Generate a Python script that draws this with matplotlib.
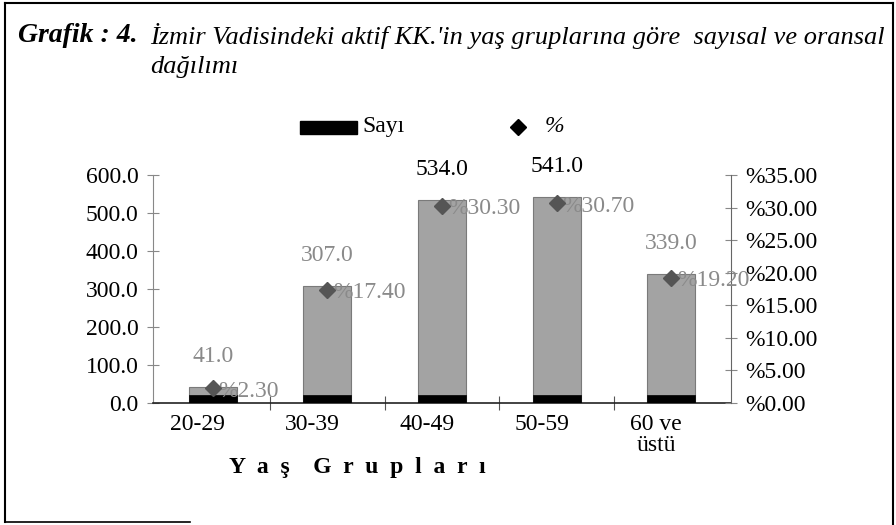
import matplotlib
matplotlib.use("Agg")
import matplotlib.pyplot as plt
from matplotlib.transforms import ScaledTranslation, blended_transform_factory
from matplotlib.lines import Line2D
from matplotlib.patches import Rectangle
import numpy as np

categories = ["20-29", "30-39", "40-49", "50-59", "60 ve\nüstü"]
counts = [41.0, 307.0, 534.0, 541.0, 339.0]
percents = [2.30, 17.40, 30.30, 30.70, 19.20]
left_ticks = [0, 100, 200, 300, 400, 500, 600]
right_ticks = [0, 5, 10, 15, 20, 25, 30, 35]

SERIF = ["Liberation Serif", "DejaVu Serif"]
plt.rcParams["font.family"] = SERIF

fig = plt.figure(figsize=(8.96, 5.25), dpi=100)
W, H = 896, 525

def fx(px):
    return px / W

def fy(py):
    return 1 - py / H

FS = 17

ax = fig.add_axes([fx(153), fy(403), fx(731) - fx(153), fy(175) - fy(403)])
ax2 = ax.twinx()

x = np.arange(len(categories))
BAR_W = 0.42
BAND = 20
ax.bar(x, counts, width=BAR_W, color="#a3a3a3", edgecolor="#7a7a7a", linewidth=0.8, zorder=2)
ax.bar(x, [BAND] * len(x), width=BAR_W, color="black", edgecolor="black", linewidth=0.5, zorder=3)

ax.set_xlim(-0.52, 4.52)
ax.set_ylim(0, 600)
ax2.set_ylim(0, 35)

ax2.plot(x, percents, linestyle="none", marker="D", markersize=8, color="#555555", zorder=5)

# spines
ax.spines["top"].set_visible(False)
ax2.spines["top"].set_visible(False)
ax.spines["left"].set_color("#888888")
ax.spines["left"].set_linewidth(0.8)
ax2.spines["right"].set_color("#666666")
ax2.spines["right"].set_linewidth(0.8)
ax.spines["bottom"].set_color("#222222")
ax.spines["bottom"].set_linewidth(1.2)
ax2.spines["left"].set_visible(False)
ax2.spines["bottom"].set_visible(False)
ax.spines["right"].set_visible(False)

ax.set_yticks(left_ticks)
ax.set_yticklabels([f"{v:.1f}" for v in left_ticks], fontsize=FS)
ax.tick_params(axis="y", direction="inout", length=9, width=0.8, color="#888888", pad=6)

ax2.set_yticks(right_ticks)
ax2.set_yticklabels([f"%{v:.2f}" for v in right_ticks], fontsize=FS)
ax2.tick_params(axis="y", direction="inout", length=9, width=0.8, color="#888888", pad=6)

ax.set_xticks(np.arange(len(categories) - 1) + 0.5)
ax.set_xticklabels([])
ax.tick_params(axis="x", direction="inout", length=10, width=0.8, color="#555555")

# category labels (shifted slightly left)
tb = blended_transform_factory(ax.transData, ax.transAxes)
for i, c in enumerate(categories):
    off = ScaledTranslation(-15 / 100, -11 / 100, fig.dpi_scale_trans)
    ax.text(i, 0, c, transform=tb + off, ha="center", va="top", fontsize=FS,
            linespacing=1.0)

# count labels
for i, v in enumerate(counts):
    col = "black" if v > 500 else "#8a8a8a"
    ax.annotate(f"{v:.1f}", (i, v), xytext=(0, 31), textcoords="offset pixels",
                ha="center", va="center", fontsize=FS, color=col, zorder=6,
                annotation_clip=False)

# percent labels
for i, p in enumerate(percents):
    ax2.annotate(f"%{p:.2f}", (i, p), xytext=(6, -3), textcoords="offset pixels",
                 ha="left", va="center", fontsize=FS, color="#8a8a8a", zorder=4,
                 annotation_clip=False)

# axis title
fig.text(fx(357), fy(467), "Y  a  ş    G  r  u  p  l  a  r  ı", ha="center", va="center",
         fontsize=17, fontweight="bold")

# title
fig.text(fx(18), fy(36), "Grafik : 4.", ha="left", va="center", fontsize=20,
         fontweight="bold", fontstyle="italic")
fig.text(fx(150), fy(36), "İzmir Vadisindeki aktif KK.'in yaş gruplarına göre  sayısal ve oransal",
         ha="left", va="center", fontsize=19, fontstyle="italic")
fig.text(fx(150), fy(67), "dağılımı", ha="left", va="center", fontsize=19, fontstyle="italic")

# legend
fig.patches.append(Rectangle((fx(300), fy(134)), fx(357) - fx(300), fy(121) - fy(134),
                             transform=fig.transFigure, facecolor="black", edgecolor="black"))
fig.text(fx(362), fy(127), "Sayı", ha="left", va="center", fontsize=FS)
fig.lines.append(Line2D([fx(518)], [fy(127)], transform=fig.transFigure, marker="D",
                        markersize=8, color="black", linestyle="none"))
fig.text(fx(545), fy(127), "%", ha="left", va="center", fontsize=FS, fontstyle="italic")

# outer frame
fig.lines.append(Line2D([fx(5), fx(5)], [fy(522), fy(3)], transform=fig.transFigure, color="black", lw=1.5))
fig.lines.append(Line2D([fx(5), fx(893)], [fy(3), fy(3)], transform=fig.transFigure, color="black", lw=1.5))
fig.lines.append(Line2D([fx(893), fx(893)], [fy(3), fy(524)], transform=fig.transFigure, color="black", lw=1.5))
fig.lines.append(Line2D([fx(5), fx(190)], [fy(522), fy(522)], transform=fig.transFigure, color="black", lw=1.2))

fig.savefig("out.png", dpi=100)
